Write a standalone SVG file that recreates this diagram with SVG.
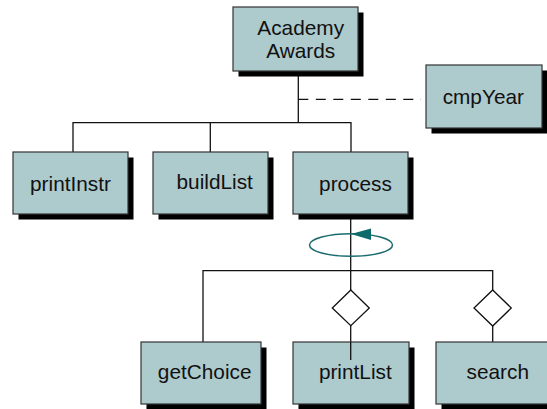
<svg xmlns="http://www.w3.org/2000/svg" width="547" height="409" viewBox="0 0 547 409">
<style>
.sh{fill:#000}
.bx{fill:#adcacd;stroke:#333;stroke-width:1.2}
.t{font-family:"Liberation Sans",Arial,sans-serif;font-size:20.8px;fill:#111;text-anchor:middle}
.c{stroke:#111;stroke-width:1.3;fill:none}
.d{fill:#fff;stroke:#111;stroke-width:1.3}
</style>
<rect width="547" height="409" fill="#fff"/>
<g id="connectors">
<line class="c" x1="298.3" y1="71" x2="298.3" y2="122.7"/>
<line class="c" x1="298.3" y1="99.3" x2="421" y2="99.3" stroke-dasharray="10 7.5"/>
<polyline class="c" points="73,152 73,122.7 351,122.7 351,152"/>
<line class="c" x1="210.3" y1="122.7" x2="210.3" y2="152"/>
<line class="c" x1="350.7" y1="214" x2="350.7" y2="342"/>
<polyline class="c" points="203,342 203,270.7 492.7,270.7 492.7,342"/>
<ellipse cx="351" cy="245" rx="41.5" ry="11.3" fill="none" stroke="#1a6b6e" stroke-width="1.5"/>
<polygon points="351,234 371,228.5 371,240" fill="#0f6a6c"/>
<polygon class="d" points="350.8,290 369.3,308 350.8,325.7 332.3,308"/>
<polygon class="d" points="492.7,290 511.3,308 492.7,326 474,308"/>
</g>
<g id="academyAwards">
<rect class="sh" x="238.5" y="12.5" width="125" height="64"/>
<rect class="bx" x="233" y="7" width="125" height="64"/>
<text class="t" x="300.7" y="35">Academy</text>
<text class="t" x="300.7" y="58">Awards</text>
</g>
<g id="cmpYear">
<rect class="sh" x="431.5" y="70.5" width="116" height="63"/>
<rect class="bx" x="426" y="65" width="116" height="63"/>
<text class="t" x="483.3" y="104.3">cmpYear</text>
</g>
<g id="printInstr">
<rect class="sh" x="18.5" y="157.5" width="115" height="62"/>
<rect class="bx" x="13" y="152" width="115" height="62"/>
<text class="t" x="70.5" y="191">printInstr</text>
</g>
<g id="buildList">
<rect class="sh" x="158.5" y="157.5" width="115" height="62"/>
<rect class="bx" x="153" y="152" width="115" height="62"/>
<text class="t" x="214.7" y="189">buildList</text>
</g>
<g id="process">
<rect class="sh" x="298.5" y="157.5" width="115" height="62"/>
<rect class="bx" x="293" y="152" width="115" height="62"/>
<text class="t" x="355.5" y="191">process</text>
</g>
<g id="getChoice">
<rect class="sh" x="146.5" y="347.5" width="120" height="62"/>
<rect class="bx" x="141" y="342" width="120" height="62"/>
<text class="t" x="204.7" y="379">getChoice</text>
</g>
<g id="printList">
<rect class="sh" x="298.5" y="347.5" width="116" height="62"/>
<rect class="bx" x="293" y="342" width="116" height="62"/>
<line class="c" x1="350.7" y1="342" x2="350.7" y2="360"/>
<text class="t" x="355.3" y="379">printList</text>
</g>
<g id="search">
<rect class="sh" x="441.5" y="347.5" width="116" height="62"/>
<rect class="bx" x="436" y="342" width="116" height="62"/>
<text class="t" x="497.8" y="379">search</text>
</g>
</svg>
